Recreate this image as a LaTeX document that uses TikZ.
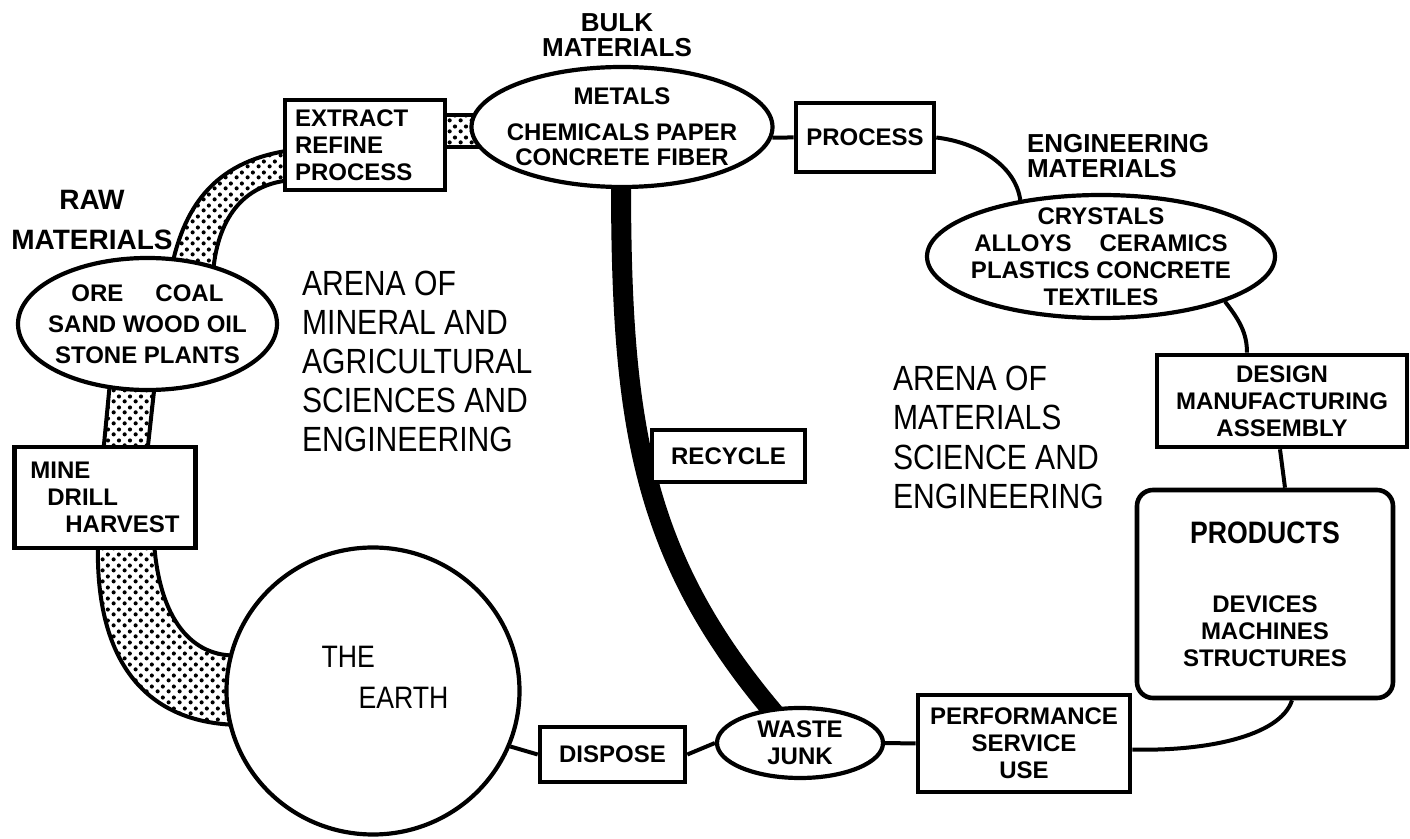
\documentclass[tikz,border=0pt]{standalone}
\usepackage{fontspec}
\setmainfont{Liberation Sans}
\newfontfamily\narrowfont[FakeStretch=0.86]{Liberation Sans}
\usetikzlibrary{shapes.geometric, positioning, backgrounds, calc, patterns.meta}

\tikzdeclarepattern{
  name=grit,
  type=uncolored,
  bounding box={(0pt,0pt) and (5.6pt,5.6pt)},
  tile size={(5.6pt,5.6pt)},
  code={
    \fill (1.4pt,1.4pt) circle [radius=1.1pt];
    \fill (4.2pt,4.0pt) circle [radius=1.1pt];
  }
}

\begin{document}
\begin{tikzpicture}[
    x=0.5pt, y=-0.5pt,
    box/.style={rectangle, draw, fill=white, line width=2.3pt, align=center, font=\bfseries\fontsize{12}{13.5}\selectfont},
    blob/.style={ellipse, draw, fill=white, line width=2.1pt, inner xsep=-10pt, inner ysep=-5pt, align=center, font=\bfseries\fontsize{12}{13.5}\selectfont},
    tag/.style={align=center, font=\bfseries\fontsize{13}{12.5}\selectfont},
    arena/.style={align=left, anchor=west, font=\narrowfont\fontsize{17.5}{19.6}\selectfont},
    link/.style={draw, line width=2pt},
    band/.style={draw, line width=2pt, pattern=grit, pattern color=black},
    recycleband/.style={draw, line width=10pt}
]
\useasboundingbox (0,0) rectangle (1410,839);

% Nodes
\node (bulk) [blob, minimum width=150.5pt, minimum height=60pt, font=\bfseries\fontsize{12}{12.5}\selectfont] at (622,127) {METALS\\[5.5pt]CHEMICALS PAPER\\CONCRETE FIBER};
\node (bulklbl) [tag] at (617,35) {BULK\\MATERIALS};
\node (extract) [box, minimum width=80pt, minimum height=45pt, text width=70pt, align=left] at (365,145) {EXTRACT\\REFINE\\PROCESS};
\node (process) [box, minimum width=69pt, minimum height=34.5pt] at (865,137.5) {PROCESS};
\node (englbl) [tag, align=left, anchor=west] at (1020,156.5) {ENGINEERING\\MATERIALS};
\node (eng) [blob, minimum width=174pt, minimum height=61.5pt] at (1101,256.5) {CRYSTALS\\ALLOYS\hspace{14pt}CERAMICS\\PLASTICS CONCRETE\\TEXTILES};
\node (design) [box, minimum width=125pt, minimum height=46pt] at (1282,401) {DESIGN\\MANUFACTURING\\ASSEMBLY};
\node (prod) [box, rounded corners=8pt, minimum width=128pt, minimum height=104pt] at (1265,594) {{\narrowfont\fontsize{15.5}{16}\selectfont PRODUCTS}\\[21pt]DEVICES\\MACHINES\\STRUCTURES};
\node (perf) [box, minimum width=106pt, minimum height=48.5pt] at (1024,743.5) {PERFORMANCE\\SERVICE\\USE};
\node (waste) [blob, minimum width=83pt, minimum height=35pt] at (800,743) {WASTE\\JUNK};
\node (dispose) [box, minimum width=72.5pt, minimum height=27.5pt] at (612.5,754.5) {DISPOSE};
\node (recycle) [box, minimum width=76.5pt, minimum height=26pt] at (728.5,456) {RECYCLE};
\node (earth) [ellipse, draw, fill=white, line width=2.1pt, minimum width=146.5pt, minimum height=143.5pt] at (373,691) {};
\node (earthtxt) [align=left, font=\narrowfont\fontsize{15.5}{20.5}\selectfont] at (385,677.5) {THE\\\hspace*{18.5pt}EARTH};
\node (mine) [box, minimum width=90.5pt, minimum height=50.5pt, align=left] at (105,497.5) {MINE\\\hspace*{8.5pt}DRILL\\\hspace*{17.5pt}HARVEST};
\node (raw) [blob, minimum width=129.5pt, minimum height=66pt, font=\bfseries\fontsize{12}{15.5}\selectfont] at (147.5,324) {ORE\hspace{16pt}COAL\\SAND WOOD OIL\\STONE PLANTS};
\node (rawlbl) [tag, font=\bfseries\fontsize{14}{20}\selectfont] at (92,220) {RAW\\MATERIALS};
\node (mineral) [arena] at (295,361.5) {ARENA OF\\MINERAL AND\\AGRICULTURAL\\SCIENCES AND\\ENGINEERING};
\node (matsci) [arena] at (886,437.5) {ARENA OF\\MATERIALS\\SCIENCE AND\\ENGINEERING};

% Connections
\draw [link] (bulk.-4) -- (process.west);
\draw [link] (process.east) .. controls ($(process.east)+(41,5)$) and ($(eng.145)+(-5,-35)$) .. (eng.145);
\draw [link] (eng.-20) .. controls ($(eng.-20)+(14,18)$) and ($(design.north)+(-35,-20)$) .. ($(design.north)+(-35,0)$);
\draw [link] ($(design.south)+(-2,0)$) -- ($(prod.north)+(20,0)$);
\draw [link] ($(prod.south)+(27,0)$) .. controls ($(prod.south)+(15,37)$) and ($(perf.east)+(70,8)$) .. ($(perf.east)+(0,6)$);
\draw [link] (perf.west) -- (waste.east);
\draw [link] (waste.west) -- (dispose.east);
\draw [link] (dispose.west) -- (earth.-22);

% Material bands
\begin{scope}[on background layer]
\draw [band] ($(raw.north)+(24,12)$) .. controls ($(raw.north)+(37.5,-53)$) and ($(extract.west)+(-65,15)$) .. ($(extract.west)+(10,5)$)
  -- ($(extract.west)+(10,35)$) .. controls ($(extract.west)+(-35,38)$) and ($(raw.north)+(70.5,-43)$) .. ($(raw.north)+(65.5,17)$) -- cycle;
\draw [band] ($(extract.east)+(-8,-30)$) rectangle ($(bulk.west)+(16,20)$);
\draw [band] ($(raw.south)+(-37.5,-10)$) -- ($(mine.north)+(-2,10)$) -- ($(mine.north)+(42,10)$) -- ($(raw.south)+(7.5,-10)$) -- cycle;
\draw [band] ($(mine.south)+(-7,-8)$) .. controls ($(mine.south)+(-10,102)$) and ($(earth.west)+(-86,34)$) .. ($(earth.west)+(18.5,34)$)
  -- ($(earth.west)+(18.5,-36)$) .. controls ($(earth.west)+(-26.5,-31)$) and ($(mine.south)+(55,77)$) .. ($(mine.south)+(49,-8)$) -- cycle;
\draw [recycleband] ($(bulk.south)+(-1,-10)$) .. controls ($(bulk.south)+(-1,233)$) and ($(waste.north)+(-160,-148)$) .. ($(waste.north)+(-20,14)$);
\end{scope}

\end{tikzpicture}
\end{document}
